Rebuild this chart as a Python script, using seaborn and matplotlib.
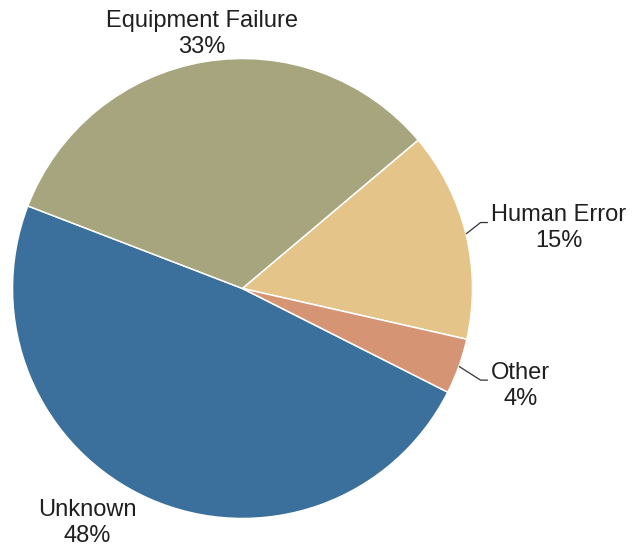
import numpy as np
import matplotlib
matplotlib.use("Agg")
import matplotlib.pyplot as plt
import seaborn as sns

# data
causes = ["Unknown", "Equipment Failure", "Human Error", "Other"]
shares = [48.4, 33.0, 14.7, 3.9]
colors = ["#3a709b", "#a6a57d", "#e4c489", "#d59473"]

sns.set_theme(style="white")
plt.rcParams["font.family"] = ["Liberation Sans", "DejaVu Sans"]

fig = plt.figure(figsize=(6.38, 5.5), dpi=100)
ax = fig.add_axes([0, 0, 1, 1])

R = 230.0  # pie radius in pixels
cx, cy = 242.5, 550 - 288.5
wedges, _ = ax.pie(shares, colors=sns.color_palette(colors), startangle=-26.8,
                   counterclock=False, radius=1.0,
                   wedgeprops=dict(edgecolor="white", linewidth=1.1))

ax.set_xlim(-cx / R, (638 - cx) / R)
ax.set_ylim(-cy / R, (550 - cy) / R)
ax.set_aspect("equal")
ax.axis("off")

txt = dict(fontsize=17, color="#1f1f1f", multialignment="center", linespacing=1.25)

for name, val, w in zip(causes, shares, wedges):
    lab = f"{name}\n{val:.0f}%"
    mid = np.deg2rad((w.theta1 + w.theta2) / 2)
    ex, ey = np.cos(mid), np.sin(mid)
    if name == "Equipment Failure":
        ax.text(-0.176, 1.108, lab, ha="center", va="center", **txt)
    elif name == "Unknown":
        ax.text(-0.676, -1.018, lab, ha="center", va="center", **txt)
    else:
        # leader line: edge -> elbow -> short horizontal
        ky = ey + (0.05 if ey > 0 else -0.06)
        kx = 1.035
        ax.plot([ex, kx, kx + 0.032], [ey, ky, ky], color="#333333", lw=0.9,
                solid_capstyle="butt")
        ax.text(kx + 0.047, ky - 0.025, lab, ha="left", va="center", **txt)

plt.savefig("out.png", dpi=100)
